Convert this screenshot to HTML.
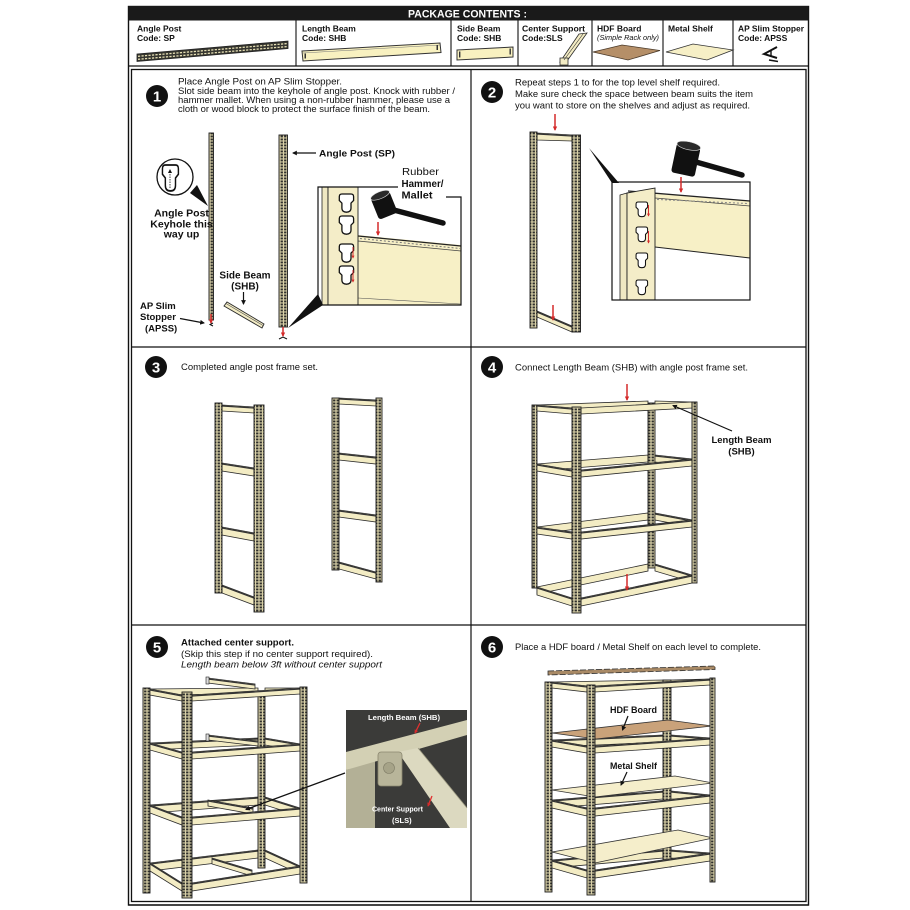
<!DOCTYPE html>
<html><head><meta charset="utf-8"><style>
html,body{margin:0;padding:0;background:#fff;}
svg{display:block;}
text{font-family:"Liberation Sans",Arial,sans-serif;fill:#111;}
.b{fill:#f3ecc4;stroke:#2b2b2b;stroke-width:0.8;}
.p{fill:url(#holes);stroke:#1a1a1a;stroke-width:0.9;}
.fl{stroke:#333;stroke-width:1.3;fill:none;}
.ra{stroke:#d42a2a;stroke-width:1.5;marker-end:url(#ar);fill:none;}
.ba{stroke:#111;stroke-width:1.2;marker-end:url(#ab);fill:none;}
.bd{font-weight:bold;}
.wt{fill:#fff;font-weight:bold;}
text.num{fill:#fff;font-weight:bold;font-size:15px;}
</style></head><body>
<svg width="910" height="910" viewBox="0 0 910 910" xmlns="http://www.w3.org/2000/svg">
<defs>
<pattern id="holes" width="3.5" height="3" patternUnits="userSpaceOnUse">
<rect width="3.5" height="3" fill="#d9d1a8"/><rect x="0.6" y="0.5" width="2.3" height="1.9" fill="#2e2e2b"/>
</pattern>
<marker id="ar" viewBox="0 0 10 10" refX="8" refY="5" markerWidth="3" markerHeight="3" orient="auto"><path d="M0,0 L10,5 L0,10 z" fill="#d42a2a"/></marker>
<marker id="ab" viewBox="0 0 10 10" refX="8" refY="5" markerWidth="4" markerHeight="4" orient="auto"><path d="M0,0 L10,5 L0,10 z" fill="#111"/></marker>
<path id="kh" d="M1,2 Q1,0 3,0 H10 Q12,0 12,2 V5 L10,7 V11 Q10,14 6.5,14 Q3,14 3,11 V7 L1,5 Z" fill="#fff" stroke="#111" stroke-width="1"/>
</defs>
<rect width="910" height="910" fill="#fff"/>

<!-- ===== Outer frame & header ===== -->
<rect x="128.5" y="6.5" width="680" height="898.5" fill="none" stroke="#111" stroke-width="1.4"/>
<rect x="128.5" y="6" width="680" height="14.5" fill="#1a1a1a"/>
<text x="408" y="17.5" class="wt" font-size="11" textLength="119" lengthAdjust="spacingAndGlyphs">PACKAGE CONTENTS :</text>
<line x1="128.5" y1="66" x2="808.5" y2="66" stroke="#111" stroke-width="1.2"/>
<g stroke="#111" stroke-width="1.1">
<line x1="296" y1="20.5" x2="296" y2="66"/>
<line x1="451" y1="20.5" x2="451" y2="66"/>
<line x1="518" y1="20.5" x2="518" y2="66"/>
<line x1="592" y1="20.5" x2="592" y2="66"/>
<line x1="663" y1="20.5" x2="663" y2="66"/>
<line x1="733" y1="20.5" x2="733" y2="66"/>
</g>

<!-- package labels -->
<g class="bd" font-size="8.5">
<text x="137" y="31.5">Angle Post</text><text x="137" y="41">Code: SP</text>
<text x="302" y="31.5">Length Beam</text><text x="302" y="41">Code: SHB</text>
<text x="457" y="31.5">Side Beam</text><text x="457" y="41">Code: SHB</text>
<text x="522" y="31.5" textLength="63" lengthAdjust="spacingAndGlyphs">Center Support</text><text x="522" y="41">Code:SLS</text>
<text x="597" y="31.5">HDF Board</text>
<text x="668" y="31.5">Metal Shelf</text>
<text x="738" y="31.5" textLength="66" lengthAdjust="spacingAndGlyphs">AP Slim Stopper</text><text x="738" y="41">Code: APSS</text>
</g>
<text x="597" y="40" font-size="7.6" font-style="italic" textLength="62" lengthAdjust="spacingAndGlyphs">(Simple Rack only)</text>

<!-- package images -->
<polygon points="137,54 288,41 288,48.5 137,61.5" fill="#35352f" stroke="#222" stroke-width="0.8"/>
<line x1="138" y1="56.3" x2="287" y2="43.6" stroke="#e7e0b5" stroke-width="1.3" stroke-dasharray="2.2 1.3"/>
<line x1="138" y1="59.3" x2="287" y2="46.6" stroke="#e7e0b5" stroke-width="1.3" stroke-dasharray="2.2 1.3"/>
<polygon points="302,51 440,43 441,52.5 303,61" fill="#f8f1c0" stroke="#333" stroke-width="1"/>
<line x1="303" y1="53" x2="440" y2="45" stroke="#777" stroke-width="0.5"/>
<rect x="304.5" y="53.5" width="1.5" height="5" fill="#333"/><rect x="436.5" y="45" width="1.5" height="5" fill="#333"/>
<polygon points="457,50 513,47 513,57 457,60" fill="#f8f1c0" stroke="#333" stroke-width="1"/>
<rect x="459" y="51.5" width="1.4" height="6" fill="#333"/><rect x="509.5" y="48.5" width="1.4" height="6" fill="#333"/>
<polygon points="579,34 587,33 567,61 560,62" class="b"/>
<polygon points="560,58 568,58 568,65 560,65" class="b"/>
<line x1="583" y1="34" x2="564" y2="60" stroke="#333" stroke-width="0.6"/>
<polygon points="593,52 622,45 660,50.5 628,60" fill="#b58f68" stroke="#4a3a2a" stroke-width="0.8"/>
<polygon points="666,52 693,44 733,50 707,60" fill="#f6efc6" stroke="#333" stroke-width="0.8"/>
<path d="M777,47 L764,54 L777,58" stroke="#111" stroke-width="2" fill="none"/>
<line x1="771" y1="51" x2="771" y2="57" stroke="#111" stroke-width="1.4"/>
<line x1="769" y1="60" x2="778" y2="61.5" stroke="#111" stroke-width="1.4"/>

<!-- ===== Content grid ===== -->
<rect x="131.5" y="69.5" width="674.5" height="832" fill="none" stroke="#111" stroke-width="1.3"/>
<line x1="471" y1="69.5" x2="471" y2="901.5" stroke="#111" stroke-width="1.2"/>
<line x1="131.5" y1="347" x2="806" y2="347" stroke="#111" stroke-width="1.2"/>
<line x1="131.5" y1="625" x2="806" y2="625" stroke="#111" stroke-width="1.2"/>

<!-- step circles -->
<g text-anchor="middle">
<circle cx="157" cy="96" r="11" fill="#111"/><text class="num" x="157" y="101.5">1</text>
<circle cx="492" cy="92" r="11" fill="#111"/><text class="num" x="492" y="97.5">2</text>
<circle cx="156" cy="367" r="11" fill="#111"/><text class="num" x="156" y="372.5">3</text>
<circle cx="492" cy="367" r="11" fill="#111"/><text class="num" x="492" y="372.5">4</text>
<circle cx="157" cy="647" r="11" fill="#111"/><text class="num" x="157" y="652.5">5</text>
<circle cx="492" cy="647" r="11" fill="#111"/><text class="num" x="492" y="652.5">6</text>
</g>

<!-- step texts -->
<g font-size="8.8">
<text x="178" y="84.5" textLength="164" lengthAdjust="spacingAndGlyphs">Place Angle Post on AP Slim Stopper.</text>
<text x="178" y="93.8" textLength="277" lengthAdjust="spacingAndGlyphs">Slot side beam into the keyhole of angle post. Knock with rubber /</text>
<text x="178" y="103" textLength="272" lengthAdjust="spacingAndGlyphs">hammer mallet. When using a non-rubber hammer, please use a</text>
<text x="178" y="112" textLength="252" lengthAdjust="spacingAndGlyphs">cloth or wood block to protect the surface finish of the beam.</text>
<text x="515" y="85.5" textLength="205" lengthAdjust="spacingAndGlyphs">Repeat steps 1 to for the top level shelf required.</text>
<text x="515" y="97" textLength="238" lengthAdjust="spacingAndGlyphs">Make sure check the space between beam suits the item</text>
<text x="515" y="108.5" textLength="235" lengthAdjust="spacingAndGlyphs">you want to store on the shelves and adjust as required.</text>
<text x="181" y="370" textLength="137" lengthAdjust="spacingAndGlyphs">Completed angle post frame set.</text>
<text x="515" y="370.5" textLength="233" lengthAdjust="spacingAndGlyphs">Connect Length Beam (SHB) with angle post frame set.</text>
<text x="181" y="645.5" font-size="9.5" font-weight="bold" textLength="113" lengthAdjust="spacingAndGlyphs">Attached center support.</text>
<text x="181" y="657" font-size="9.5" textLength="192" lengthAdjust="spacingAndGlyphs">(Skip this step if no center support required).</text>
<text x="181" y="667.5" font-size="9.5" font-style="italic" textLength="201" lengthAdjust="spacingAndGlyphs">Length beam below 3ft without center support</text>
<text x="515" y="650" textLength="246" lengthAdjust="spacingAndGlyphs">Place a HDF board / Metal Shelf on each level to complete.</text>
</g>

<!-- ===== Panel 1 illustration ===== -->
<rect x="209" y="133" width="4.5" height="187" class="p"/>
<line x1="211" y1="314" x2="211" y2="323" class="ra"/>
<path d="M213,323 l-3,1.5 l3,1.5" stroke="#111" stroke-width="1" fill="none"/>
<polygon points="190,193 197,185 208,206" fill="#111"/>
<circle cx="175" cy="177" r="18" fill="#fff" stroke="#111" stroke-width="1.3"/>
<use href="#kh" transform="translate(161,165) scale(1.45,1.85)"/>
<line x1="170" y1="188" x2="170" y2="172" stroke="#111" stroke-width="0.8" stroke-dasharray="1.5 1"/>
<polygon points="168,173 172,173 170,169" fill="#111"/>
<g class="bd" font-size="10.5" text-anchor="middle">
<text x="181.5" y="216.5">Angle Post</text>
<text x="181.5" y="227.5">Keyhole this</text>
<text x="181.5" y="237.5">way up</text>
</g>
<rect x="279" y="135" width="8.5" height="192" class="p"/>
<line x1="283" y1="327" x2="283" y2="336" class="ra"/>
<path d="M279,339 l4,-2 l4,2" stroke="#111" stroke-width="1" fill="none"/>
<line x1="316" y1="153" x2="293" y2="153" class="ba"/>
<text x="319" y="156.5" class="bd" font-size="9.5" textLength="76" lengthAdjust="spacingAndGlyphs">Angle Post (SP)</text>
<!-- detail box -->
<polygon points="358,235 461,245 461,305 358,305" fill="#f7f0c6"/>
<line x1="358" y1="236" x2="461" y2="246" stroke="#222" stroke-width="1.3"/>
<line x1="358" y1="241" x2="461" y2="251" stroke="#444" stroke-width="0.8"/>
<line x1="360" y1="238.5" x2="460" y2="248.5" stroke="#777" stroke-width="1" stroke-dasharray="2 2"/>
<line x1="358" y1="298" x2="461" y2="304" stroke="#555" stroke-width="0.6"/>
<rect x="322" y="187" width="6" height="118" fill="#efe8c2" stroke="#222" stroke-width="0.8"/>
<rect x="328" y="187" width="30" height="118" fill="#f4edc8" stroke="#222" stroke-width="0.9"/>
<use href="#kh" transform="translate(338,194) scale(1.3)"/>
<use href="#kh" transform="translate(338,216) scale(1.3)"/>
<use href="#kh" transform="translate(338,244) scale(1.3)"/>
<use href="#kh" transform="translate(338,266) scale(1.3)"/>
<line x1="353" y1="247" x2="353" y2="258" stroke="#d42a2a" stroke-width="1" marker-end="url(#ar)"/>
<line x1="353" y1="270" x2="353" y2="282" stroke="#d42a2a" stroke-width="1" marker-end="url(#ar)"/>
<polyline points="398,187 318,187 318,305 461,305 461,197 446,197" fill="none" stroke="#111" stroke-width="1.2"/>
<line x1="390" y1="209" x2="443" y2="223" stroke="#111" stroke-width="5.5" stroke-linecap="round"/>
<g transform="rotate(-22 384 205)">
<rect x="374" y="194" width="20" height="23" rx="3" fill="#111"/>
<ellipse cx="384" cy="194.5" rx="10" ry="3.5" fill="#2a2a2a" stroke="#ddd" stroke-width="0.6"/>
</g>
<line x1="378" y1="222" x2="378" y2="235" class="ra"/>
<text x="402" y="175" font-size="10.5" textLength="37" lengthAdjust="spacingAndGlyphs">Rubber</text>
<text x="401.5" y="187" class="bd" font-size="10.5" textLength="42" lengthAdjust="spacingAndGlyphs">Hammer/</text>
<text x="401.5" y="198.5" class="bd" font-size="10.5" textLength="31" lengthAdjust="spacingAndGlyphs">Mallet</text>
<polygon points="318,294 323,305 288,328" fill="#111"/>
<polygon points="224,306 227,302 264,324 262,328" fill="#f3ecc4" stroke="#2b2b2b" stroke-width="0.9"/>
<line x1="226" y1="303.5" x2="263" y2="325.5" stroke="#555" stroke-width="0.6"/>
<g class="bd" font-size="10" text-anchor="middle">
<text x="245" y="278.5">Side Beam</text>
<text x="245" y="289.5">(SHB)</text>
</g>
<line x1="243.5" y1="292" x2="243.5" y2="304" class="ba"/>
<g class="bd" font-size="9.5">
<text x="140" y="309">AP Slim</text>
<text x="140" y="320">Stopper</text>
<text x="145" y="331.5">(APSS)</text>
</g>
<line x1="180" y1="318.5" x2="204" y2="323" class="ba"/>

<!-- ===== Panel 2 illustration ===== -->
<polygon points="537,133 572,135 572,141 537,140" class="b"/>
<line class="fl" x1="537" y1="134" x2="572" y2="136"/>
<polygon points="537,311 572,326 572,332 537,317" class="b"/>
<line class="fl" x1="537" y1="312" x2="572" y2="327"/>
<rect x="530" y="132" width="7" height="196" class="p"/>
<rect x="572" y="135" width="8.5" height="197" class="p"/>
<line x1="555" y1="114" x2="555" y2="130" class="ra"/>
<line x1="553" y1="305" x2="553" y2="320" class="ra"/>
<polygon points="589,148 612,183 619,183" fill="#111"/>
<polygon points="655,194 750,201 750,258 655,247" fill="#f7f0c6"/>
<line x1="655" y1="247" x2="750" y2="258" stroke="#222" stroke-width="1"/>
<line x1="628" y1="191" x2="750" y2="201" stroke="#222" stroke-width="1.3"/>
<line x1="655" y1="198" x2="750" y2="206" stroke="#444" stroke-width="0.8"/>
<line x1="657" y1="199.5" x2="748" y2="203.5" stroke="#888" stroke-width="1" stroke-dasharray="2 2"/>
<polygon points="620,195 627,193 627,300 620,300" fill="#efe8c2" stroke="#222" stroke-width="0.8"/>
<polygon points="627,193 655,188 655,300 627,300" fill="#f4edc8" stroke="#222" stroke-width="0.9"/>
<use href="#kh" transform="translate(635,202) scale(1.05)"/>
<use href="#kh" transform="translate(635,227) scale(1.05)"/>
<use href="#kh" transform="translate(635,253) scale(1.05)"/>
<use href="#kh" transform="translate(635,280) scale(1.05)"/>
<line x1="648.5" y1="205" x2="648.5" y2="216" stroke="#d42a2a" stroke-width="1" marker-end="url(#ar)"/>
<line x1="648.5" y1="231" x2="648.5" y2="243" stroke="#d42a2a" stroke-width="1" marker-end="url(#ar)"/>
<rect x="612" y="182" width="138" height="118" fill="none" stroke="#111" stroke-width="1.2"/>
<line x1="696" y1="162" x2="742" y2="175" stroke="#111" stroke-width="5.5" stroke-linecap="round"/>
<g transform="rotate(12 686 159)">
<rect x="674" y="145" width="24" height="30" rx="3" fill="#111"/>
<ellipse cx="686" cy="145.5" rx="12" ry="4" fill="#2a2a2a" stroke="#ddd" stroke-width="0.6"/>
</g>
<line x1="681" y1="177" x2="681" y2="192" class="ra"/>

<!-- ===== Panel 3 illustration ===== -->
<polygon class="b" points="222,405 254,407 254,413 222,411"/><line class="fl" x1="222" y1="406" x2="254" y2="408"/>
<polygon class="b" points="222,463 254,468 254,476 222,471"/><line class="fl" x1="222" y1="464" x2="254" y2="469"/>
<polygon class="b" points="222,527 254,533 254,541 222,535"/><line class="fl" x1="222" y1="528" x2="254" y2="534"/>
<polygon class="b" points="222,585 254,597 254,605 222,593"/><line class="fl" x1="222" y1="586" x2="254" y2="598"/>
<rect x="215" y="403" width="7" height="190" class="p"/>
<rect x="254" y="405" width="10" height="207" class="p"/>
<polygon class="b" points="339,398 376,400 376,406 339,404"/><line class="fl" x1="339" y1="399" x2="376" y2="401"/>
<polygon class="b" points="339,453 376,457 376,464 339,460"/><line class="fl" x1="339" y1="454" x2="376" y2="458"/>
<polygon class="b" points="339,510 376,515 376,522 339,517"/><line class="fl" x1="339" y1="511" x2="376" y2="516"/>
<polygon class="b" points="339,562 376,572 376,579 339,569"/><line class="fl" x1="339" y1="563" x2="376" y2="573"/>
<rect x="332" y="398" width="7" height="172" class="p"/>
<rect x="376" y="398" width="6" height="184" class="p"/>

<!-- ===== Panel 4 illustration ===== -->
<polygon class="b" points="537,405 648,401 648,407 537,411"/>
<polygon class="b" points="537,464 648,455 648,462 537,471"/>
<polygon class="b" points="537,527 648,513 648,520 537,534"/>
<polygon class="b" points="537,587 648,564 648,571 537,594"/>
<rect x="532" y="405" width="5" height="183" class="p"/>
<rect x="648" y="403" width="7" height="165" class="p"/>
<polygon class="b" points="655,401 692,402 692,408 655,407"/>
<polygon class="b" points="655,455 692,459 692,466 655,462"/><line class="fl" x1="655" y1="456" x2="692" y2="460"/>
<polygon class="b" points="655,513 692,520 692,527 655,520"/><line class="fl" x1="655" y1="514" x2="692" y2="521"/>
<polygon class="b" points="655,564 692,575 692,582 655,571"/><line class="fl" x1="655" y1="565" x2="692" y2="576"/>
<polygon class="b" points="537,405 572,408 572,414 537,411"/><line class="fl" x1="537" y1="406" x2="572" y2="409"/>
<polygon class="b" points="537,464 572,470 572,477 537,471"/><line class="fl" x1="537" y1="465" x2="572" y2="471"/>
<polygon class="b" points="537,527 572,532 572,539 537,534"/><line class="fl" x1="537" y1="528" x2="572" y2="533"/>
<polygon class="b" points="537,587 572,598 572,606 537,595"/><line class="fl" x1="537" y1="588" x2="572" y2="599"/>
<polygon class="b" points="581,408 692,402 692,408 581,414"/>
<polygon class="b" points="581,470 692,459 692,466 581,477"/><line class="fl" x1="581" y1="471" x2="692" y2="460"/>
<polygon class="b" points="581,532 692,520 692,527 581,539"/><line class="fl" x1="581" y1="533" x2="692" y2="521"/>
<polygon class="b" points="581,598 692,575 692,583 581,606"/><line class="fl" x1="581" y1="599" x2="692" y2="576"/>
<rect x="572" y="407" width="9" height="206" class="p"/>
<rect x="692" y="402" width="5" height="181" class="p"/>
<line x1="627" y1="384" x2="627" y2="400" class="ra"/>
<line x1="627" y1="574" x2="627" y2="590" class="ra"/>
<line x1="732" y1="431" x2="673" y2="405.5" class="ba"/>
<g class="bd" font-size="9.5" text-anchor="middle">
<text x="741.5" y="443" textLength="60" lengthAdjust="spacingAndGlyphs">Length Beam</text>
<text x="741.5" y="454.5">(SHB)</text>
</g>

<!-- ===== Panel 5 illustration ===== -->
<polygon class="b" points="150,689 258,688 258,694 150,695"/>
<polygon class="b" points="150,743 258,738 258,745 150,750"/><line class="fl" x1="150" y1="744" x2="258" y2="739"/>
<polygon class="b" points="150,805 258,797 258,805 150,813"/><line class="fl" x1="150" y1="806" x2="258" y2="798"/>
<polygon class="b" points="150,863 258,850 258,858 150,871"/><line class="fl" x1="150" y1="864" x2="258" y2="851"/>
<rect x="143" y="688" width="7" height="205" class="p"/>
<rect x="258" y="693" width="7" height="175" class="p"/>
<polygon class="b" points="208,800 253,808 253,814 208,806"/><line class="fl" x1="208" y1="801" x2="253" y2="809"/>
<polygon class="b" points="212,858 252,870 252,876 212,864"/><line class="fl" x1="212" y1="859" x2="252" y2="871"/>
<polygon class="b" points="265,688 300,688 300,694 265,694"/>
<polygon class="b" points="265,738 300,744 300,751 265,745"/><line class="fl" x1="265" y1="739" x2="300" y2="745"/>
<polygon class="b" points="265,797 300,808 300,816 265,805"/><line class="fl" x1="265" y1="798" x2="300" y2="809"/>
<polygon class="b" points="265,850 300,866 300,874 265,858"/><line class="fl" x1="265" y1="851" x2="300" y2="867"/>
<polygon class="b" points="150,689 182,695 182,701 150,695"/><line class="fl" x1="150" y1="690" x2="182" y2="696"/>
<polygon class="b" points="150,743 182,752 182,759 150,750"/><line class="fl" x1="150" y1="744" x2="182" y2="753"/>
<polygon class="b" points="150,805 182,817 182,825 150,813"/><line class="fl" x1="150" y1="806" x2="182" y2="818"/>
<polygon class="b" points="150,863 182,883 182,891 150,871"/><line class="fl" x1="150" y1="864" x2="182" y2="884"/>
<polygon class="b" points="192,695 300,688 300,694 192,701"/><line class="fl" x1="192" y1="696" x2="300" y2="689"/>
<polygon class="b" points="192,752 300,744 300,751 192,759"/><line class="fl" x1="192" y1="753" x2="300" y2="745"/>
<polygon class="b" points="192,817 300,808 300,816 192,825"/><line class="fl" x1="192" y1="818" x2="300" y2="809"/>
<polygon class="b" points="192,883 300,866 300,874 192,891"/><line class="fl" x1="192" y1="884" x2="300" y2="867"/>
<rect x="182" y="692" width="10" height="206" class="p"/>
<rect x="300" y="687" width="7" height="196" class="p"/>
<polygon class="b" points="208,678 255,684 255,689 208,683"/><line class="fl" x1="208" y1="679" x2="255" y2="685"/>
<rect x="206" y="677" width="3" height="7" fill="#ddd" stroke="#222" stroke-width="0.6"/>
<polygon class="b" points="208,735 258,741 258,746 208,740"/><line class="fl" x1="208" y1="736" x2="258" y2="742"/>
<rect x="206" y="734" width="3" height="7" fill="#ddd" stroke="#222" stroke-width="0.6"/>
<!-- photo inset -->
<rect x="346" y="710" width="121" height="118" fill="#3b3b39"/>
<polygon points="346,770 375,760 375,828 346,828" fill="#b3b096"/>
<polygon points="346,752 467,720 467,735 346,770" fill="#d3d0b4"/>
<polygon points="398,752 418,748 467,808 467,828 450,828" fill="#dcd9c0"/>
<line x1="418" y1="748" x2="467" y2="808" stroke="#9a977f" stroke-width="0.8"/>
<rect x="378" y="752" width="24" height="34" rx="3" fill="#b8b59a" stroke="#8a876f" stroke-width="0.8"/>
<circle cx="389" cy="768" r="5.5" fill="#a6a388" stroke="#7f7c66" stroke-width="0.6"/>
<text x="368" y="720" class="wt" font-size="7.5" textLength="72" lengthAdjust="spacingAndGlyphs">Length Beam (SHB)</text>
<text x="372" y="811.5" class="wt" font-size="7.5" textLength="51" lengthAdjust="spacingAndGlyphs">Center Support</text>
<text x="392" y="823" class="wt" font-size="7.5">(SLS)</text>
<line x1="420" y1="723" x2="415" y2="733" stroke="#e03030" stroke-width="1.3" marker-end="url(#ar)"/>
<line x1="432" y1="796" x2="428" y2="806" stroke="#e03030" stroke-width="1.3" marker-end="url(#ar)"/>
<line x1="345" y1="773" x2="246" y2="809.5" class="ba" stroke-width="1"/>

<!-- ===== Panel 6 illustration ===== -->
<polygon class="b" points="552,682 663,680 663,686 552,688"/>
<polygon class="b" points="552,740 663,735 663,742 552,747"/><line class="fl" x1="552" y1="741" x2="663" y2="736"/>
<polygon class="b" points="552,800 663,791 663,799 552,808"/><line class="fl" x1="552" y1="801" x2="663" y2="792"/>
<polygon class="b" points="552,860 663,850 663,858 552,868"/><line class="fl" x1="552" y1="861" x2="663" y2="851"/>
<rect x="545" y="682" width="7" height="210" class="p"/>
<rect x="663" y="680" width="8" height="187" class="p"/>
<polygon class="b" points="671,680 710,679 710,685 671,686"/>
<polygon class="b" points="671,735 710,738 710,745 671,742"/><line class="fl" x1="671" y1="736" x2="710" y2="739"/>
<polygon class="b" points="671,791 710,795 710,803 671,799"/><line class="fl" x1="671" y1="792" x2="710" y2="796"/>
<polygon class="b" points="671,850 710,853 710,861 671,858"/><line class="fl" x1="671" y1="851" x2="710" y2="854"/>
<polygon class="b" points="552,682 587,686 587,692 552,688"/><line class="fl" x1="552" y1="683" x2="587" y2="687"/>
<polygon class="b" points="552,740 587,746 587,753 552,747"/><line class="fl" x1="552" y1="741" x2="587" y2="747"/>
<polygon class="b" points="552,800 587,808 587,816 552,808"/><line class="fl" x1="552" y1="801" x2="587" y2="809"/>
<polygon class="b" points="552,860 587,870 587,878 552,868"/><line class="fl" x1="552" y1="861" x2="587" y2="871"/>
<polygon class="b" points="595,686 710,679 710,685 595,692"/><line class="fl" x1="595" y1="687" x2="710" y2="680"/>
<polygon class="b" points="595,746 710,738 710,745 595,753"/><line class="fl" x1="595" y1="747" x2="710" y2="739"/>
<polygon class="b" points="595,808 710,795 710,803 595,816"/><line class="fl" x1="595" y1="809" x2="710" y2="796"/>
<polygon class="b" points="595,870 710,853 710,861 595,878"/><line class="fl" x1="595" y1="871" x2="710" y2="854"/>
<polygon points="548,671 715,666 715,669.5 548,675" fill="#a98a66" stroke="#333" stroke-width="0.8" stroke-dasharray="6 2"/>
<polygon points="552,733 668,720 712,726 596,739" fill="#c9a27a" stroke="#333" stroke-width="0.8"/>
<polygon points="552,790 675,776 713,783 595,797" fill="#f5eecb" stroke="#333" stroke-width="0.8"/>
<polygon points="552,852 678,830 713,838 595,863" fill="#f5eecb" stroke="#333" stroke-width="0.8"/>
<rect x="587" y="685" width="8" height="210" class="p"/>
<rect x="710" y="678" width="5" height="204" class="p"/>
<g class="bd" font-size="9">
<text x="610" y="713" textLength="47" lengthAdjust="spacingAndGlyphs">HDF Board</text>
<text x="610" y="769" textLength="47" lengthAdjust="spacingAndGlyphs">Metal Shelf</text>
</g>
<line x1="628" y1="716" x2="622.5" y2="730" class="ba"/>
<line x1="627" y1="772" x2="621" y2="785" class="ba"/>

<line x1="128.5" y1="905" x2="808.5" y2="905" stroke="#111" stroke-width="1.3"/>
</svg>
</body></html>
